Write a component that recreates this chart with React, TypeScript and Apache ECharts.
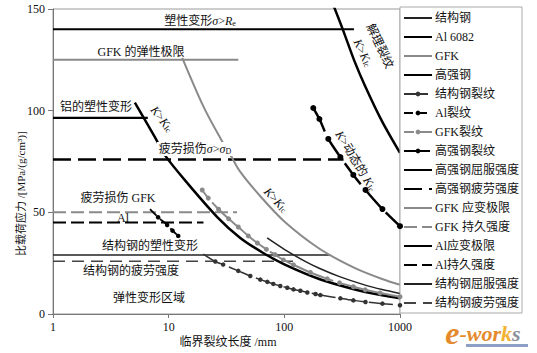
import React, { useEffect, useRef } from "react";
import * as echarts from "echarts";

const F = "'Liberation Serif','Noto Sans CJK SC',serif";

// x: critical crack length (mm), y: specific stress MPa/(g/cm3)
const xTickLabels = ["1", "10", "100", "1000"];
const yTickLabels = ["0", "50", "100", "150"];

// K > KIc curves
const steelKA = [71, 100, 150, 200, 300, 500, 700, 1000];
const steelKS = [37.4, 31.8, 26, 22.5, 18.4, 14.2, 12, 10.1];
const alKA = [5.1, 7.6, 9.3, 14.5, 26.3, 41.6, 65.7, 100, 200, 400, 700, 1000];
const alKS = [104, 87, 78, 64.4, 47.7, 37.4, 30, 24.4, 17.2, 12.2, 9.2, 7.7];
const gfkKA = [13.1, 20, 27.9, 34, 41.5, 62, 100, 200, 400, 700, 1000];
const gfkKS = [126, 102, 86.6, 78.5, 70, 57.9, 45.5, 32.2, 22.8, 17.2, 14.4];
const hsKA = [265, 320, 400, 500, 700, 1000];
const hsKS = [152, 140, 125, 112, 94.7, 79.2];

// crack curves
const steelCrA = [19.9, 25.3, 29.6, 40, 50.8, 62, 71.3, 80.3, 92.3, 106, 120, 137.6, 158, 186, 205, 305, 395, 503, 705, 1000];
const steelCrS = [29.5, 25.8, 24.3, 21.2, 18.7, 16.9, 15.8, 14.8, 13.8, 12.9, 12.1, 11.4, 10.6, 9.8, 9.3, 7.7, 6.7, 5.9, 5.1, 4.3];
const alCrA = [6.9, 8.1, 9.7, 10.8, 12.1];
const alCrS = [51.6, 47.6, 43.8, 41, 38.4];
const gfkCrA = [19.5, 22, 27, 33, 40, 48.8, 58.5, 70, 83, 98, 120, 168, 235, 300, 395, 500, 673, 1000];
const gfkCrS = [61, 57, 51.5, 46.8, 42.8, 38.4, 34.9, 31.8, 29.2, 26.6, 24.2, 20.4, 17.3, 15.3, 13.4, 11.9, 10.3, 8.5];
const hsCrA = [178, 201, 240, 305, 395, 503, 705, 1000];
const hsCrS = [101.3, 95.9, 86.1, 77.2, 68.4, 61, 51.6, 43.2];

// strength limits: [stress, end crack length]
const hsYield = [140, 400];
const hsFatigue = [76, 325];
const gfkStrain = [125, 40];
const gfkEndur = [50, 39];
const alStrain = [96.5, 6.6];
const alEndur = [45, 20];
const stYield = [29, 250];
const stFatigue = [26, 137];

const zip = (a: number[], s: number[], firstNoDot = false) =>
  a.map((x, i) =>
    firstNoDot && i === 0 ? { value: [x, s[i]], symbol: "none" } : [x, s[i]]
  );
const hline = (l: number[]) => [
  [1, l[0]],
  [l[1], l[0]],
];

function curve(name: string, data: any[], color: string, width: number) {
  return {
    name,
    type: "line",
    data,
    showSymbol: false,
    symbol: "none",
    smooth: 0.3,
    lineStyle: { color, width },
    itemStyle: { color },
    z: 3,
  };
}
function crack(name: string, data: any[], color: string, width: number, size: number, dash: number[]) {
  return {
    name,
    type: "line",
    data,
    symbol: "circle",
    symbolSize: size,
    showSymbol: true,
    smooth: 0.3,
    lineStyle: { color, width, type: dash },
    itemStyle: { color },
    z: 4,
  };
}
function limit(name: string, l: number[], color: string, width: number, dash?: number[]) {
  return {
    name,
    type: "line",
    data: hline(l),
    showSymbol: false,
    symbol: "none",
    lineStyle: { color, width, type: dash ? dash : "solid" },
    itemStyle: { color },
    z: 2,
  };
}

const sub = { fontSize: 8, fontFamily: F, verticalAlign: "bottom", fill: "#111" };
const ital = { fontSize: 12, fontFamily: F, fontStyle: "italic", fill: "#111" };
const norm = { fontSize: 12, fontFamily: F, fill: "#111" };

function label(text: string, x: number, y: number, rot = 0, bg = false, size = 12) {
  return {
    type: "text",
    x,
    y,
    rotation: rot,
    z: 100,
    style: {
      text,
      fill: "#111",
      fontSize: size,
      fontFamily: F,
      align: "center",
      verticalAlign: "middle",
      backgroundColor: bg ? "#fff" : "transparent",
      padding: bg ? [1, 2] : 0,
      rich: { i: ital, s: sub, n: norm },
    },
  };
}

const dotted = ["结构钢裂纹", "Al裂纹", "GFK裂纹", "高强钢裂纹"];
const logoFont = "'Liberation Serif', serif";

export default function App() {
  const ref = useRef<HTMLDivElement>(null);
  useEffect(() => {
    if (!ref.current) return;
    const chart = echarts.init(ref.current, undefined, { renderer: "svg" });
    const series = [
      curve("结构钢", zip(steelKA, steelKS), "#222", 1.5),
      curve("Al 6082", zip(alKA, alKS), "#000", 2.5),
      curve("GFK", zip(gfkKA, gfkKS), "#8a8a8a", 2),
      curve("高强钢", zip(hsKA, hsKS), "#000", 2.5),
      crack("结构钢裂纹", zip(steelCrA, steelCrS, true), "#333", 1.5, 4.5, [24, 5]),
      crack("Al裂纹", zip(alCrA, alCrS, true), "#000", 1.8, 4.5, [9, 5]),
      crack("GFK裂纹", zip(gfkCrA, gfkCrS), "#8a8a8a", 2, 5, [10, 6, 60, 0]),
      crack("高强钢裂纹", zip(hsCrA, hsCrS), "#000", 2.5, 6, [26, 6]),
      limit("高强钢屈服强度", hsYield, "#000", 2),
      limit("高强钢疲劳强度", hsFatigue, "#000", 2.5, [18, 7]),
      limit("GFK 应变极限", gfkStrain, "#8a8a8a", 2),
      limit("GFK 持久强度", gfkEndur, "#8a8a8a", 2, [13, 5]),
      limit("Al应变极限", alStrain, "#000", 2.2),
      limit("Al持久强度", alEndur, "#000", 1.8, [13, 5]),
      limit("结构钢屈服强度", stYield, "#222", 1.5),
      limit("结构钢疲劳强度", stFatigue, "#444", 1.5, [12, 7]),
    ];
    const option = {
      animation: false,
      backgroundColor: "#fff",
      grid: {
        left: 53,
        right: 137,
        top: 9,
        bottom: 39,
        show: true,
        borderColor: "#9a9a9a",
        borderWidth: 1,
      },
      xAxis: {
        type: "log",
        logBase: 10,
        min: 1,
        max: 1000,
        axisLine: { lineStyle: { color: "#777" } },
        axisTick: { show: true, length: 4, lineStyle: { color: "#777" } },
        minorTick: { show: false },
        splitLine: { show: false },
        axisLabel: {
          color: "#111",
          fontSize: 12,
          fontFamily: F,
          margin: 7,
          formatter: (v: number) => xTickLabels[Math.round(Math.log10(v))],
        },
      },
      yAxis: {
        type: "value",
        min: 0,
        max: 150,
        interval: 50,
        axisLine: { show: true, lineStyle: { color: "#777" } },
        axisTick: { show: true, length: 5, lineStyle: { color: "#777" } },
        splitLine: { show: false },
        axisLabel: {
          color: "#111",
          fontSize: 12,
          fontFamily: F,
          margin: 8,
          formatter: (v: number) => yTickLabels[Math.round(v / 50)],
        },
      },
      legend: {
        orient: "vertical",
        left: 400,
        top: 7,
        itemWidth: 28,
        itemHeight: 6,
        itemGap: 7,
        padding: [5, 3, 4, 3],
        borderColor: "#aaa",
        borderWidth: 1,
        backgroundColor: "#fff",
        selectedMode: false,
        textStyle: { fontSize: 12, lineHeight: 12, fontFamily: F, color: "#111", padding: [0, 0, 0, -2] },
        data: series.map((s) =>
          dotted.includes(s.name) ? { name: s.name } : { name: s.name, itemStyle: { opacity: 0 } }
        ),
      },
      series,
      graphic: [
        label("塑性变形{i|σ}>{i|R}{s|e}", 200, 21),
        label("GFK 的弹性极限", 141, 52),
        label("铝的塑性变形", 96, 107),
        label("{i|K}>{i|K}{s|Ic}", 162, 119, -0.92),
        label("疲劳损伤{i|σ}>{i|σ}{s|D}", 195, 149, 0, true),
        label("解理裂纹", 380, 46, -1.13),
        label("{i|K}>{i|K}{s|Ic}", 363, 53, -1.13),
        label("{i|K}>动态的 {i|K}{s|Ic}", 356, 161, -1.03),
        label("{i|K}>{i|K}{s|Ic}", 276, 200, -0.82),
        label("疲劳损伤 GFK", 118, 198),
        label("Al", 123, 218),
        label("结构钢的塑性变形", 150, 246, 0, true),
        label("结构钢的疲劳强度", 131, 271),
        label("弹性变形区域", 149, 298),
        label("临界裂纹长度 /mm", 228, 342),
        {
          type: "text",
          x: 21,
          y: 256,
          rotation: Math.PI / 2,
          z: 100,
          style: {
            text: "比载荷应力 /[MPa/(g/cm³)]",
            fill: "#111",
            fontSize: 11,
            fontFamily: F,
            align: "left",
            verticalAlign: "middle",
          },
        },
        {
          type: "rect",
          z: 99,
          shape: { x: 466, y: 344, width: 62, height: 3 },
          style: { fill: "#8d9fc4" },
        },
        {
          type: "text",
          x: 483,
          y: 333,
          z: 100,
          style: {
            text: "{a|e}{b|-wor}{c|k}{d|s}",
            align: "center",
            verticalAlign: "middle",
            rich: {
              a: { fontSize: 32, fontWeight: "bold", fontStyle: "italic", fontFamily: logoFont, fill: "#e58a2c" },
              b: { fontSize: 22, fontWeight: "bold", fontStyle: "italic", fontFamily: logoFont, fill: "#e58a2c" },
              c: { fontSize: 22, fontWeight: "bold", fontStyle: "italic", fontFamily: logoFont, fill: "#f2b233" },
              d: { fontSize: 22, fontWeight: "bold", fontStyle: "italic", fontFamily: logoFont, fill: "#8a8f9a" },
            },
          },
        },
      ],
    };
    chart.setOption(option as any);
    return () => chart.dispose();
  }, []);
  return (
    <div
      ref={ref}
      style={{ position: "absolute", left: 0, top: 0, width: 537, height: 353 }}
    />
  );
}
